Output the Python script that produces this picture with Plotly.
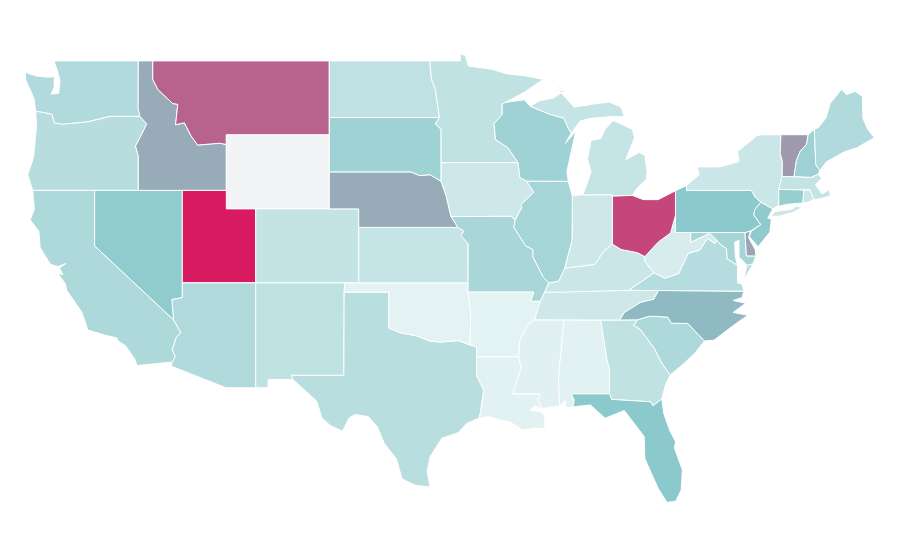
import plotly.graph_objects as go
from plotly.colors import sample_colorscale

# cdn topojson is out of reach here, so the state outlines (lon, lat) are kept in the file
# reference is a plain lon/lat plot, not mercator, so scatter polygons on linear axes
outlines = {
    'WA': [[(-122.76,49),(-117.03,49),(-117.04,46.42),(-116.92,46),(-118.98,46),(-119.3,45.93),(-120.5,45.7),(-121.2,45.65),(-122.2,45.57),(-122.75,45.65),(-122.9,46.1),(-123.4,46.2),(-124,46.27),(-124.07,46.65),(-124.1,46.9),(-124.3,47.3),(-124.68,47.95),(-124.73,48.38),(-123.9,48.17),(-123.1,48.12),(-122.75,48.15),(-122.75,47.6),(-122.95,47.2),(-122.45,47.25),(-122.35,47.9),(-122.5,48.4)]],
    'OR': [[(-124,46.27),(-123.4,46.2),(-122.9,46.1),(-122.75,45.65),(-122.2,45.57),(-121.2,45.65),(-120.5,45.7),(-119.3,45.93),(-118.98,46),(-116.92,46),(-116.46,45.6),(-116.85,44.95),(-117.22,44.4),(-117.03,43.85),(-117.03,42),(-124.21,42),(-124.55,42.84),(-124.15,43.8),(-124.07,44.7),(-123.95,45.5)]],
    'CA': [[(-124.21,42),(-120,42),(-120,39),(-114.63,35),(-114.14,34.3),(-114.43,34.08),(-114.72,33.4),(-114.52,33),(-114.72,32.72),(-117.12,32.53),(-117.25,32.85),(-117.9,33.6),(-118.4,33.85),(-118.5,34.03),(-119.2,34.15),(-120.47,34.45),(-120.64,34.9),(-120.9,35.45),(-121.9,36.6),(-122,36.96),(-122.5,37.5),(-122.15,37.45),(-122.4,37.8),(-121.95,38.05),(-122.5,37.88),(-123,38),(-123.7,38.9),(-123.8,39.8),(-124.38,40.4),(-124.1,41)]],
    'NV': [[(-120,42),(-114.04,42),(-114.04,36.2),(-114.74,36.1),(-114.63,35),(-120,39)]],
    'ID': [[(-117.03,49),(-116.05,49),(-116.05,48),(-115.7,47.45),(-114.7,46.7),(-114.35,46.65),(-114.5,45.55),(-113.9,45.65),(-113.45,44.95),(-113,44.45),(-111.5,44.55),(-111.05,44.48),(-111.05,42),(-117.03,42),(-117.03,43.85),(-117.22,44.4),(-116.85,44.95),(-116.46,45.6),(-116.92,46),(-117.04,46.42)]],
    'MT': [[(-116.05,49),(-104.05,49),(-104.05,45),(-111.05,45),(-111.05,44.48),(-111.5,44.55),(-113,44.45),(-113.45,44.95),(-113.9,45.65),(-114.5,45.55),(-114.35,46.65),(-114.7,46.7),(-115.7,47.45),(-116.05,48)]],
    'WY': [[(-111.05,45),(-104.05,45),(-104.05,41),(-111.05,41)]],
    'UT': [[(-114.04,42),(-111.05,42),(-111.05,41),(-109.05,41),(-109.05,37),(-114.04,37)]],
    'CO': [[(-109.05,41),(-102.05,41),(-102.05,37),(-109.05,37)]],
    'AZ': [[(-114.04,37),(-109.05,37),(-109.05,31.33),(-111.07,31.33),(-114.81,32.5),(-114.72,32.72),(-114.52,33),(-114.72,33.4),(-114.43,34.08),(-114.14,34.3),(-114.63,35),(-114.74,36.1),(-114.04,36.2)]],
    'NM': [[(-109.05,37),(-103,37),(-103.04,36.5),(-103.06,32),(-106.62,32),(-106.53,31.78),(-108.21,31.78),(-108.21,31.33),(-109.05,31.33)]],
    'TX': [[(-103.04,36.5),(-100,36.5),(-100,34.56),(-99.2,34.3),(-98.1,34.13),(-97.2,33.85),(-96.5,33.8),(-95.3,33.88),(-94.48,33.64),(-94.04,33.55),(-94.04,33),(-94.04,31.99),(-93.55,31.2),(-93.7,30.3),(-93.84,29.7),(-94.7,29.4),(-95.3,28.9),(-96.4,28.6),(-97.2,27.6),(-97.4,26.8),(-97.2,25.96),(-98.2,26.06),(-99.1,26.4),(-99.5,27.5),(-100.3,28.3),(-100.8,29.25),(-101.4,29.77),(-102.3,29.88),(-102.7,29.7),(-103.15,28.98),(-104,29.3),(-104.55,29.7),(-104.9,30.6),(-106,31.4),(-106.53,31.78),(-106.62,32),(-103.06,32)]],
    'OK': [[(-103,37),(-94.62,37),(-94.62,36.5),(-94.43,35.4),(-94.48,33.64),(-95.3,33.88),(-96.5,33.8),(-97.2,33.85),(-98.1,34.13),(-99.2,34.3),(-100,34.56),(-100,36.5),(-103.04,36.5)]],
    'KS': [[(-102.05,40),(-95.31,40),(-94.9,39.8),(-95.1,39.55),(-94.61,39.11),(-94.62,37),(-102.05,37)]],
    'NE': [[(-104.05,43),(-98.5,43),(-97.9,42.8),(-97.2,42.85),(-96.45,42.49),(-96.1,41.7),(-95.9,41),(-95.77,40.58),(-95.31,40),(-102.05,40),(-102.05,41),(-104.05,41)]],
    'SD': [[(-104.05,45.94),(-96.56,45.94),(-96.85,45.6),(-96.45,45.3),(-96.45,43.5),(-96.45,42.49),(-97.2,42.85),(-97.9,42.8),(-98.5,43),(-104.05,43)]],
    'ND': [[(-104.05,49),(-97.23,49),(-97.1,48),(-96.85,47.5),(-96.56,45.94),(-104.05,45.94)]],
    'MN': [[(-97.23,49),(-95.15,49),(-95.15,49.38),(-94.8,49.3),(-94.6,48.72),(-93,48.55),(-92,48.3),(-90.8,48.2),(-89.5,48),(-90.8,47.3),(-92.1,46.75),(-92.3,46.65),(-92.3,46.1),(-92.85,45.6),(-92.75,44.75),(-91.9,44.3),(-91.22,43.5),(-96.45,43.5),(-96.45,45.3),(-96.85,45.6),(-96.56,45.94),(-96.85,47.5),(-97.1,48)]],
    'IA': [[(-96.45,43.5),(-91.22,43.5),(-91.1,42.7),(-90.64,42.5),(-90.15,41.9),(-91.05,41.2),(-90.95,41.1),(-91.42,40.38),(-91.7,40.6),(-95.77,40.58),(-95.9,41),(-96.1,41.7),(-96.45,42.49)]],
    'MO': [[(-95.77,40.58),(-91.7,40.6),(-91.42,40.38),(-91.5,40),(-90.7,39),(-90.2,38.8),(-90.2,38.4),(-89.5,37.3),(-89.13,37),(-89.4,36.5),(-89.7,36),(-90.37,36),(-90.15,36.5),(-94.62,36.5),(-94.62,37),(-94.61,39.11),(-95.1,39.55),(-94.9,39.8),(-95.31,40)]],
    'AR': [[(-94.62,36.5),(-90.15,36.5),(-90.37,36),(-89.7,36),(-90.1,35),(-90.6,34.7),(-91.1,33.9),(-91.17,33),(-94.04,33),(-94.04,33.55),(-94.48,33.64),(-94.43,35.4)]],
    'LA': [[(-94.04,33),(-91.17,33),(-91,32.4),(-91.6,31),(-89.75,31),(-89.85,30.67),(-89.55,30.2),(-90.1,30.35),(-90.4,30.1),(-89.7,30.05),(-89.4,29.8),(-89.4,29.2),(-89.05,29.1),(-90,29.15),(-90.9,29.05),(-91.8,29.5),(-92.3,29.55),(-93.2,29.77),(-93.84,29.7),(-93.7,30.3),(-93.55,31.2),(-94.04,31.99)]],
    'MS': [[(-90.1,35),(-88.2,35),(-88.1,34.9),(-88.47,31.9),(-88.4,30.35),(-89.55,30.2),(-89.85,30.67),(-89.75,31),(-91.6,31),(-91,32.4),(-91.17,33),(-91.1,33.9),(-90.6,34.7)]],
    'AL': [[(-88.2,35),(-85.6,34.98),(-85.18,32.87),(-85,32.3),(-85,31),(-87.6,31),(-87.4,30.65),(-87.5,30.3),(-88,30.25),(-88,30.65),(-88.4,30.35),(-88.47,31.9),(-88.1,34.9)]],
    'GA': [[(-85.6,34.98),(-84.32,34.99),(-83.1,35),(-83.35,34.7),(-82.9,34.48),(-81.95,33.45),(-81.4,32.6),(-80.87,32.03),(-81.2,31.5),(-81.45,30.72),(-82.05,30.36),(-82.2,30.57),(-84.86,30.7),(-85,31),(-85,32.3),(-85.18,32.87)]],
    'FL': [[(-87.6,31),(-85,31),(-84.86,30.7),(-82.2,30.57),(-82.05,30.36),(-81.45,30.72),(-81.3,29.9),(-80.9,29),(-80.5,28.4),(-80.6,28.1),(-80.05,26.9),(-80.13,25.8),(-80.5,25.2),(-81.1,25.13),(-81.7,25.9),(-82.1,26.6),(-82.6,27.5),(-82.65,28.7),(-83.5,29.55),(-84,30.1),(-85.3,29.68),(-86.3,30.4),(-87.5,30.3),(-87.4,30.65)]],
    'SC': [[(-83.1,35),(-82.3,35.2),(-81.05,35.15),(-80.8,34.82),(-79.67,34.8),(-78.55,33.86),(-79.2,33.2),(-80,32.6),(-80.87,32.03),(-81.4,32.6),(-81.95,33.45),(-82.9,34.48),(-83.35,34.7)]],
    'NC': [[(-81.68,36.59),(-75.87,36.55),(-76,36.2),(-76.6,36.05),(-75.75,35.9),(-76.6,35.4),(-75.6,35.25),(-76.5,34.75),(-77.9,33.9),(-78.55,33.86),(-79.67,34.8),(-80.8,34.82),(-81.05,35.15),(-82.3,35.2),(-83.1,35),(-84.32,34.99),(-84,35.4),(-82.9,35.95),(-82,36.12)]],
    'TN': [[(-90.1,35),(-88.2,35),(-85.6,34.98),(-84.32,34.99),(-84,35.4),(-82.9,35.95),(-82,36.12),(-81.68,36.59),(-83.68,36.6),(-88.07,36.5),(-89.4,36.5),(-89.7,36)]],
    'KY': [[(-89.4,36.5),(-88.07,36.5),(-83.68,36.6),(-81.97,37.54),(-82.6,38.17),(-82.6,38.42),(-83.1,38.63),(-84.2,38.8),(-84.82,39.1),(-85.4,38.7),(-86,38),(-87,37.9),(-88.05,37.8),(-88.45,37.1),(-89.13,37)]],
    'VA': [[(-83.68,36.6),(-81.68,36.59),(-75.87,36.55),(-76,36.93),(-76.3,37),(-76.3,37.6),(-76.3,37.95),(-77,38.3),(-77.05,38.85),(-77.5,39.1),(-77.72,39.32),(-77.83,39.13),(-78.35,39.4),(-78.87,38.77),(-79.65,38.6),(-80.3,37.5),(-81.25,37.25),(-81.97,37.54)],
           [(-75.9,37.12),(-75.65,37.95),(-75.25,38.03)]],
    'WV': [[(-81.97,37.54),(-81.25,37.25),(-80.3,37.5),(-79.65,38.6),(-78.87,38.77),(-78.35,39.4),(-77.83,39.13),(-77.72,39.32),(-78.2,39.68),(-79.48,39.2),(-79.48,39.72),(-80.52,39.72),(-80.52,40.64),(-80.85,39.7),(-81.7,39.2),(-82.6,38.42),(-82.6,38.17)]],
    'MD': [[(-79.48,39.72),(-75.79,39.72),(-75.7,38.46),(-75.05,38.45),(-75.25,38.03),(-75.65,37.95),(-76.2,38.4),(-76.2,39.3),(-76.5,39.2),(-76.45,38.4),(-76.3,37.95),(-77,38.3),(-77.05,38.85),(-77.5,39.1),(-77.72,39.32),(-78.2,39.68),(-79.48,39.2)]],
    'DE': [[(-75.79,39.72),(-75.42,39.8),(-75.55,39.45),(-75.1,38.8),(-75.05,38.45),(-75.7,38.46)]],
    'PA': [[(-80.52,41.98),(-79.76,42.27),(-79.76,42),(-75.35,42),(-75.07,41.6),(-74.7,41.36),(-75.1,41),(-75.2,40.68),(-74.72,40.15),(-75.42,39.8),(-75.79,39.72),(-80.52,39.72)]],
    'NJ': [[(-74.7,41.36),(-73.9,41),(-74.25,40.5),(-74,40.45),(-74.1,39.75),(-74.9,38.95),(-75.5,39.5),(-75.35,39.8),(-74.72,40.15),(-75.2,40.68),(-75.1,41)]],
    'NY': [[(-79.76,42.27),(-78.9,42.85),(-79.05,43.27),(-77.5,43.27),(-76.5,43.5),(-76.2,43.55),(-76.3,44.1),(-75,44.95),(-74.7,45),(-73.35,45.01),(-73.4,44),(-73.25,43.55),(-73.27,42.75),(-73.5,42.05),(-73.49,41.2),(-73.73,41.1),(-73.9,41),(-74.7,41.36),(-75.07,41.6),(-75.35,42),(-79.76,42)],
           [(-74.03,40.6),(-73.75,40.85),(-72.6,40.98),(-72.3,41.15),(-71.9,41.07),(-72.5,40.82),(-73.5,40.6)]],
    'VT': [[(-73.35,45.01),(-71.5,45.01),(-71.6,44.5),(-72.05,44.1),(-72.3,43.6),(-72.46,42.73),(-73.27,42.75),(-73.25,43.55),(-73.4,44)]],
    'NH': [[(-71.5,45.01),(-71.08,45.3),(-70.98,43.4),(-70.7,43.07),(-70.82,42.87),(-71.3,42.7),(-72.46,42.73),(-72.3,43.6),(-72.05,44.1),(-71.6,44.5)]],
    'ME': [[(-71.08,45.3),(-70.8,45.4),(-70.3,45.9),(-70,46.7),(-69.23,47.46),(-68.9,47.18),(-68.3,47.35),(-67.8,47.07),(-67.78,45.9),(-67.45,45.3),(-67,44.85),(-68.2,44.3),(-69,44.1),(-69.8,43.75),(-70.25,43.55),(-70.7,43.07),(-70.98,43.4)]],
    'MA': [[(-73.5,42.05),(-73.27,42.75),(-72.46,42.73),(-71.3,42.7),(-70.82,42.87),(-70.6,42.65),(-71,42.3),(-70.65,41.95),(-70.55,41.8),(-70.05,42.05),(-70,41.7),(-70.65,41.55),(-71.12,41.5),(-71.38,42.02),(-71.8,42.02)]],
    'CT': [[(-73.5,42.05),(-71.8,42.02),(-71.85,41.32),(-72.9,41.25),(-73.73,41.1),(-73.49,41.2)]],
    'RI': [[(-71.8,42.02),(-71.38,42.02),(-71.12,41.5),(-71.5,41.37),(-71.85,41.32)]],
    'OH': [[(-84.82,39.1),(-84.8,41.7),(-83.45,41.73),(-82.7,41.5),(-81.7,41.5),(-80.52,41.98),(-80.52,40.64),(-80.85,39.7),(-81.7,39.2),(-82.6,38.42),(-83.1,38.63),(-84.2,38.8)]],
    'IN': [[(-87.53,41.72),(-87.2,41.75),(-86.8,41.76),(-84.8,41.76),(-84.82,39.1),(-85.4,38.7),(-86,38),(-87,37.9),(-88.05,37.8),(-87.55,39.3)]],
    'IL': [[(-90.64,42.5),(-87.8,42.49),(-87.6,41.9),(-87.53,41.72),(-87.55,39.3),(-88.05,37.8),(-88.45,37.1),(-89.13,37),(-89.5,37.3),(-90.2,38.4),(-90.2,38.8),(-90.7,39),(-91.5,40),(-91.42,40.38),(-90.95,41.1),(-91.05,41.2),(-90.15,41.9)]],
    'WI': [[(-92.1,46.75),(-90.8,46.9),(-90.4,46.55),(-89.1,46.13),(-88.1,45.9),(-87.8,45.35),(-87.6,45.1),(-88,44.55),(-87.3,45.2),(-87.55,44.3),(-87.9,43),(-87.8,42.49),(-90.64,42.5),(-91.1,42.7),(-91.22,43.5),(-91.9,44.3),(-92.75,44.75),(-92.85,45.6),(-92.3,46.1),(-92.3,46.65)]],
    'MI': [[(-86.8,41.76),(-84.8,41.76),(-84.8,41.7),(-83.45,41.73),(-83.15,42.1),(-82.5,42.6),(-82.45,43),(-82.6,43.9),(-83,44.05),(-83.9,43.65),(-83.3,44.85),(-83.45,45.3),(-84.75,45.78),(-85.3,45.3),(-85.6,44.8),(-86.25,44.7),(-86.5,43.7),(-86.25,43)],
           [(-90.4,46.55),(-89.1,46.13),(-88.1,45.9),(-87.8,45.35),(-87.6,45.1),(-87,45.75),(-86.3,45.9),(-85,46),(-84.7,46),(-84,45.97),(-84.2,46.5),(-85,46.77),(-86.1,46.67),(-87.4,46.5),(-88.4,47.37),(-87.9,47.47),(-88.8,47),(-89.8,46.83)],
           [(-89.2,47.85),(-88.5,48.15),(-88.9,47.9)]],
}

states = ['WA','OR','CA','NV','ID','MT','WY','UT','CO','AZ','NM','TX','OK','KS','NE','SD','ND','MN','IA','MO','AR','LA','MS','AL','GA','FL','SC','NC','TN','KY','VA','WV','MD','DE','PA','NJ','NY','VT','NH','ME','MA','CT','RI','OH','IN','IL','WI','MI']
values = [24,21,25,37.5,50,75,0,100,16,24,18,20.5,2,15,50,31,17.5,17,11.5,27,2.5,3,3.5,3,17,39.5,25,45,11.5,13,22,8,28.5,52,39.5,38,13,56,32,24,15.5,35,13,85,11.5,28.5,31,15]

scale = [[0, '#f3f4f6'], [0.005, '#e8f4f5'], [0.4, '#8ac8cb'], [1, '#d81b60']]

fig = go.Figure()
for st, val in zip(states, values):
    xs, ys = [], []
    for ring in outlines[st]:
        xs += [p[0] for p in ring] + [ring[0][0], None]
        ys += [p[1] for p in ring] + [ring[0][1], None]
    fig.add_trace(go.Scatter(x=xs, y=ys, mode='lines', fill='toself', name=st,
                             fillcolor=sample_colorscale(scale, val / 100)[0],
                             line=dict(color='white', width=1), hoverinfo='name'))

# page has an 8px body margin, so the figure is 884x544 and the ranges allow for that
fig.update_layout(width=884, height=544, margin=dict(l=0, r=0, t=0, b=0), paper_bgcolor='white', plot_bgcolor='white',
                  showlegend=False,
                  xaxis=dict(range=[-125.89, -65.8], visible=False),
                  yaxis=dict(range=[22.45, 51.86], visible=False))
fig.write_html("out.html")
